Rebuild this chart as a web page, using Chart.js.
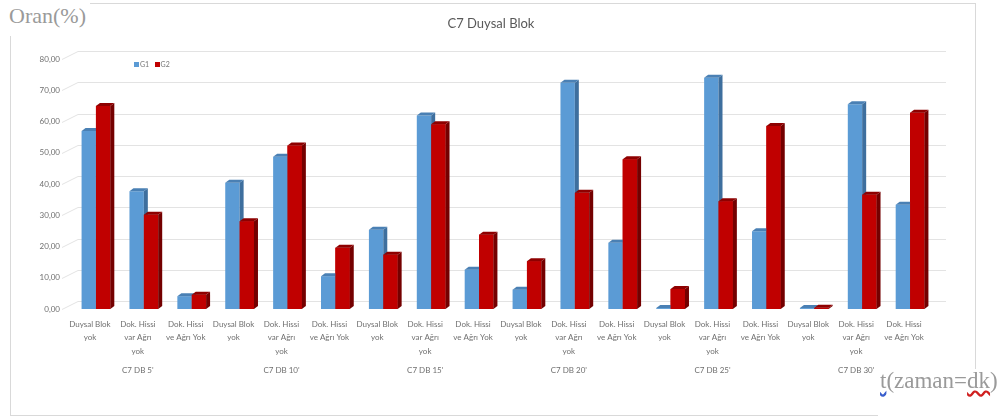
<!DOCTYPE html>
<html>
<head>
<meta charset="utf-8">
<script src="https://cdn.jsdelivr.net/npm/chart.js@4.4.1/dist/chart.umd.min.js"></script>
<style>
    body { margin: 0; background: #fff; }
    #wrap { position: relative; width: 999px; height: 419px; overflow: hidden; }
    #chart { position: absolute; left: 0; top: 0; }
    .frame { position: absolute; left: 10px; top: 3px; width: 964px; height: 411px; border: 1px solid #d9d9d9; }
    .axis-note { position: absolute; font-family: "Liberation Serif", serif; font-size: 22px; line-height: 1; color: #9a9a9a; background: #fff; }
    .title { position: absolute; left: 0; top: 15px; width: 982px; text-align: center; font-family: Lato, sans-serif; font-size: 13px; line-height: 16px; color: #595959; }
    .legend { position: absolute; left: 134px; top: 60px; font-family: Lato, sans-serif; font-size: 7px; line-height: 8px; color: #777; }
    .legend i { display: inline-block; width: 5px; height: 5px; margin: 0 1px 0 0; vertical-align: 0; }
    .squiggle-blue { text-decoration: underline wavy #3a5fcd; }
    .squiggle-red { text-decoration: underline wavy #d02020; }
</style>
</head>
<body>
<div id="wrap">
    <canvas id="chart" width="999" height="419"></canvas>
    <div class="frame"></div>
    <div class="axis-note" style="left:5px; top:3px; padding:2px 4px 9px 4px;">Oran(%)</div>
    <div class="axis-note" style="left:878px; top:369px; width:121px; height:50px; padding-left:2px; font-size:23px;"><span class="squiggle-blue">t</span>(zaman=<span class="squiggle-red">dk</span>)</div>
    <div class="title">C7 Duysal Blok</div>
    <div class="legend"><i style="background:#5b9bd5"></i>G1 &nbsp;&nbsp;<i style="background:#c00000"></i>G2</div>
</div>
<script>
// Sensory block C7: share of patients per sensation state at each time point
const subCategories = [
    ['Duysal Blok', 'yok'],
    ['Dok. Hissi', 'var Ağrı', 'yok'],
    ['Dok. Hissi', 've Ağrı Yok']
];
const timePoints = ["C7 DB 5'", "C7 DB 10'", "C7 DB 15'", "C7 DB 20'", "C7 DB 25'", "C7 DB 30'"];
const g1Values = [57.0, 37.7, 4.1, 40.4, 48.7, 10.5, 25.4, 61.9, 12.6, 6.2, 72.4, 21.2, 0.3, 74.0, 24.9, 0.3, 65.5, 33.4];
const g2Values = [65.0, 30.2, 4.6, 28.1, 52.3, 19.6, 17.4, 59.1, 23.8, 15.3, 37.2, 47.9, 6.4, 34.5, 58.6, 0.4, 36.6, 62.8];
const yTicks = [0, 10, 20, 30, 40, 50, 60, 70, 80];

const BLUE = '#5b9bd5', BLUE_SIDE = '#3e6f9e', BLUE_TOP = '#4a80b4';
const RED = '#c00000', RED_SIDE = '#740000', RED_TOP = '#8e0000';
const DX = 4, DY = 3;           // bar depth
const WALL_DX = 6, WALL_DY = 8; // back wall offset for the grid
const TEXT = '#6f6f6f';

// one label per bar, group name under the middle bar of each time point
const labels = [];
const groupRow = [];
timePoints.forEach(tp => {
    subCategories.forEach((sc, j) => {
        labels.push(sc);
        groupRow.push(j === 1 ? tp : '');
    });
});

function faces(ctx, bar, side, top) {
    const l = bar.x - bar.width / 2, r = bar.x + bar.width / 2;
    ctx.fillStyle = side;
    ctx.beginPath();
    ctx.moveTo(r, bar.y);
    ctx.lineTo(r + DX, bar.y - DY);
    ctx.lineTo(r + DX, bar.base - DY);
    ctx.lineTo(r, bar.base);
    ctx.closePath();
    ctx.fill();
    ctx.fillStyle = top;
    ctx.beginPath();
    ctx.moveTo(l, bar.y);
    ctx.lineTo(l + DX, bar.y - DY);
    ctx.lineTo(r + DX, bar.y - DY);
    ctx.lineTo(r, bar.y);
    ctx.closePath();
    ctx.fill();
}

// grid on the back wall, with the short floor diagonals from each tick label
const backWall = {
    id: 'backWall',
    beforeDatasetsDraw(chart) {
        const ctx = chart.ctx, y = chart.scales.y, {left, right} = chart.chartArea;
        ctx.save();
        ctx.strokeStyle = '#e3e3e3';
        ctx.lineWidth = 1;
        yTicks.forEach(v => {
            const py = Math.round(y.getPixelForValue(v)) + 0.5;
            ctx.beginPath();
            ctx.moveTo(left - 10, py);
            ctx.lineTo(left + WALL_DX, py - WALL_DY);
            ctx.lineTo(right + 12, py - WALL_DY);
            ctx.stroke();
        });
        ctx.restore();
    }
};

// side and top faces; the red front is repainted so it hides the blue side
const depthBars = {
    id: 'depthBars',
    afterDatasetsDraw(chart) {
        const ctx = chart.ctx;
        const blue = chart.getDatasetMeta(0).data;
        const red = chart.getDatasetMeta(1).data;
        ctx.save();
        blue.forEach((b, i) => {
            faces(ctx, b, BLUE_SIDE, BLUE_TOP);
            const r = red[i];
            ctx.fillStyle = RED;
            ctx.fillRect(r.x - r.width / 2, r.y, r.width, r.base - r.y);
            faces(ctx, r, RED_SIDE, RED_TOP);
        });
        ctx.restore();
    }
};

const noGrid = { display: false, drawTicks: false };

new Chart(document.getElementById('chart'), {
    type: 'bar',
    data: {
        labels: labels,
        datasets: [
            { label: 'G1', data: g1Values, backgroundColor: BLUE },
            { label: 'G2', data: g2Values, backgroundColor: RED }
        ]
    },
    options: {
        responsive: false,
        animation: false,
        layout: { padding: { left: 20, right: 65, top: 59, bottom: 40 } },
        datasets: { bar: { categoryPercentage: 0.6, barPercentage: 1.0 } },
        plugins: {
            legend: { display: false },
            title: { display: false },
            tooltip: { enabled: false }
        },
        scales: {
            y: {
                min: 0,
                max: 80,
                grid: noGrid,
                border: { display: false },
                ticks: {
                    stepSize: 10,
                    padding: 12,
                    color: TEXT,
                    font: { family: 'Lato', size: 8 },
                    callback: v => v.toFixed(2).replace('.', ',')
                },
                afterFit: s => { s.width = 52; }
            },
            x: {
                grid: noGrid,
                border: { display: false },
                ticks: {
                    autoSkip: false,
                    maxRotation: 0,
                    labelOffset: -6,
                    padding: 9,
                    color: TEXT,
                    font: { family: 'Lato', size: 8, lineHeight: 1.65 }
                },
                afterFit: s => { s.height = 50; }
            },
            x2: {
                type: 'category',
                labels: groupRow,
                position: 'bottom',
                offset: true,
                grid: noGrid,
                border: { display: false },
                ticks: {
                    autoSkip: false,
                    maxRotation: 0,
                    labelOffset: -6,
                    padding: 7,
                    color: TEXT,
                    font: { family: 'Lato', size: 8 }
                },
                afterFit: s => { s.height = 20; }
            }
        }
    },
    plugins: [backWall, depthBars]
});
</script>
</body>
</html>
